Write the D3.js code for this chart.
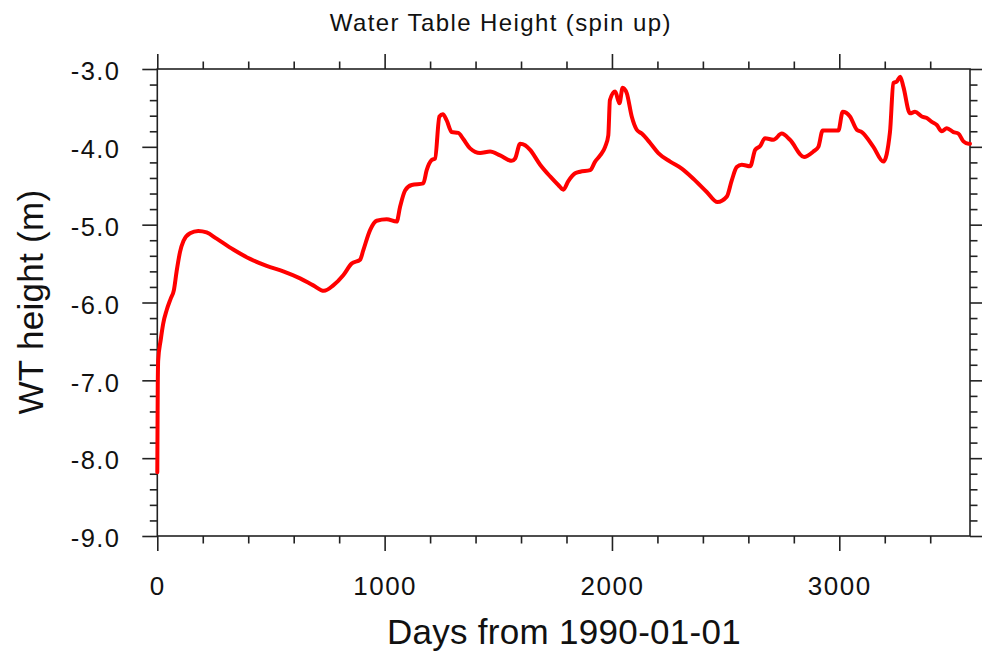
<!DOCTYPE html>
<html>
<head>
<meta charset="utf-8">
<script src="https://cdn.jsdelivr.net/npm/d3@7/dist/d3.min.js"></script>
<style>
  html, body { margin: 0; padding: 0; background: #fff; }
  svg { display: block; font-family: "Liberation Sans", Arial, Helvetica, sans-serif; }
</style>
</head>
<body>
<svg id="chart" width="982" height="652"></svg>
<script>
const titleText = "Water Table Height (spin up)";
const xLabel = "Days from 1990-01-01";
const yLabel = "WT height (m)";
const xTicks = [0, 1000, 2000, 3000];
const yTicks = [-3.0, -4.0, -5.0, -6.0, -7.0, -8.0, -9.0];
const days = [0,1,2,4,15,26,41,59,73,85,100,115,144,180,217,261,334,408,481,554,628,686,733,774,818,855,892,906,936,965,1009,1053,1068,1090,1119,1170,1185,1207,1222,1241,1256,1273,1295,1324,1346,1376,1420,1464,1508,1559,1574,1596,1618,1640,1684,1728,1764,1786,1808,1838,1860,1904,1926,1948,1970,1984,1991,2014,2033,2047,2065,2087,2109,2131,2168,2204,2256,2307,2358,2417,2464,2505,2527,2549,2571,2608,2630,2652,2673,2710,2747,2783,2845,2886,2908,2927,2996,3015,3047,3077,3099,3150,3194,3223,3238,3253,3268,3282,3311,3333,3363,3385,3407,3429,3451,3473,3502,3524,3546,3568,3575];
const wtHeight = [-8.18,-7.6,-7.08,-6.74,-6.48,-6.27,-6.10,-5.95,-5.84,-5.60,-5.35,-5.21,-5.11,-5.08,-5.10,-5.18,-5.32,-5.44,-5.53,-5.60,-5.69,-5.78,-5.85,-5.78,-5.65,-5.50,-5.45,-5.33,-5.07,-4.95,-4.93,-4.96,-4.77,-4.56,-4.49,-4.47,-4.30,-4.17,-4.15,-3.61,-3.58,-3.66,-3.81,-3.82,-3.90,-4.02,-4.08,-4.06,-4.11,-4.18,-4.15,-3.96,-3.98,-4.04,-4.23,-4.38,-4.49,-4.55,-4.44,-4.34,-4.32,-4.30,-4.19,-4.11,-4.00,-3.85,-3.40,-3.29,-3.44,-3.24,-3.31,-3.61,-3.78,-3.83,-3.95,-4.08,-4.19,-4.28,-4.41,-4.58,-4.71,-4.64,-4.43,-4.26,-4.23,-4.25,-4.04,-3.99,-3.89,-3.91,-3.83,-3.91,-4.13,-4.06,-4.00,-3.79,-3.79,-3.55,-3.61,-3.78,-3.81,-4.00,-4.19,-3.81,-3.18,-3.16,-3.10,-3.23,-3.57,-3.55,-3.61,-3.63,-3.68,-3.72,-3.80,-3.76,-3.81,-3.83,-3.93,-3.96,-3.96];

const svg = d3.select("#chart");
const pL = 157.3, pR = 970, pT = 69, pB = 536;
const x = d3.scaleLinear().domain([0, 3575]).range([pL, pR]);
const y = d3.scaleLinear().domain([-9, -3]).range([pB, pT]);

const minorX = d3.range(0, 3575, 200).filter(v => v % 1000 !== 0);
const minorY = d3.range(-9, -3.0001, 0.2).map(v => Math.round(v * 10) / 10).filter(v => Math.abs(v - Math.round(v)) > 1e-6);

const axisColor = "#222";
function styleAxis(g) {
  g.select(".domain").remove();
  g.selectAll("line").attr("stroke", axisColor).attr("stroke-width", 1.6);
}
const fmtY = v => d3.format(".1f")(v).replace("\u2212", "-");

// minor ticks
svg.append("g").attr("transform", `translate(0,${pB})`)
  .call(d3.axisBottom(x).tickValues(minorX).tickSize(7.5).tickFormat("")).call(styleAxis);
svg.append("g").attr("transform", `translate(0,${pT})`)
  .call(d3.axisTop(x).tickValues(minorX).tickSize(7.5).tickFormat("")).call(styleAxis);
svg.append("g").attr("transform", `translate(${pL},0)`)
  .call(d3.axisLeft(y).tickValues(minorY).tickSize(7.5).tickFormat("")).call(styleAxis);
svg.append("g").attr("transform", `translate(${pR},0)`)
  .call(d3.axisRight(y).tickValues(minorY).tickSize(7.5).tickFormat("")).call(styleAxis);

// major ticks
const gxb = svg.append("g").attr("transform", `translate(0,${pB})`)
  .call(d3.axisBottom(x).tickValues(xTicks).tickSize(15).tickPadding(26).tickFormat(d3.format("d")));
gxb.call(styleAxis);
gxb.selectAll("text").attr("font-size", 26).attr("fill", "#111")
  .attr("font-family", "Liberation Sans, Arial, sans-serif").style("letter-spacing", "1.5px");
svg.append("g").attr("transform", `translate(0,${pT})`)
  .call(d3.axisTop(x).tickValues(xTicks).tickSize(15).tickFormat("")).call(styleAxis);
const gyl = svg.append("g").attr("transform", `translate(${pL},0)`)
  .call(d3.axisLeft(y).tickValues(yTicks).tickSize(15).tickPadding(22).tickFormat(fmtY));
gyl.call(styleAxis);
gyl.selectAll("text").attr("font-size", 25.5).attr("fill", "#111")
  .attr("font-family", "Liberation Sans, Arial, sans-serif").attr("dy", "0.42em").style("letter-spacing", "1.4px");
svg.append("g").attr("transform", `translate(${pR},0)`)
  .call(d3.axisRight(y).tickValues(yTicks).tickSize(15).tickFormat("")).call(styleAxis);

// frame
svg.append("rect").attr("x", pL).attr("y", pT).attr("width", pR - pL).attr("height", pB - pT)
  .attr("fill", "none").attr("stroke", axisColor).attr("stroke-width", 1.6);

// line
const line = d3.line().x(d => x(d[0])).y(d => y(d[1])).curve(d3.curveMonotoneX);
svg.append("path").datum(days.map((d, i) => [d, wtHeight[i]]))
  .attr("d", line).attr("fill", "none").attr("stroke", "#ff0000")
  .attr("stroke-width", 4).attr("stroke-linejoin", "round").attr("stroke-linecap", "round");

// title and labels
svg.append("text").attr("x", 500.8).attr("y", 30.7).attr("text-anchor", "middle")
  .attr("font-size", 24).attr("fill", "#111").style("letter-spacing", "1.4px").text(titleText);
svg.append("text").attr("x", 564).attr("y", 644).attr("text-anchor", "middle")
  .attr("font-size", 35).attr("fill", "#111").style("letter-spacing", "0.3px").text(xLabel);
svg.append("text").attr("transform", `translate(43,302) rotate(-90)`).attr("text-anchor", "middle")
  .attr("font-size", 35).attr("fill", "#111").style("letter-spacing", "0.3px").text(yLabel);
</script>
</body>
</html>
